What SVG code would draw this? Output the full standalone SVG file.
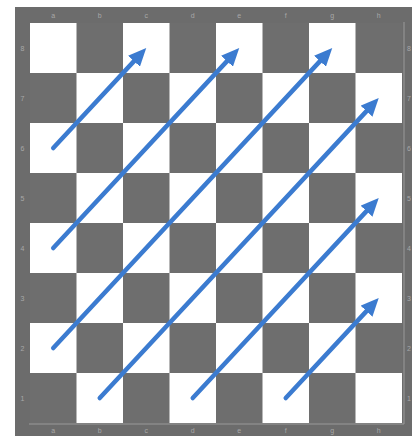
<svg xmlns="http://www.w3.org/2000/svg" width="412" height="436" viewBox="0 0 412 436">
<style>
.lt{fill:#ffffff}
.dk{fill:#6e6e6e}
.lbl{font-family:"Liberation Sans",Arial,sans-serif;font-size:7px;fill:#a8a8a8;text-anchor:middle}
.arr{stroke:#3b7bd0;stroke-width:4.5;fill:none;stroke-linecap:round;marker-end:url(#ah)}
</style>
<defs>
<marker id="ah" markerWidth="4" markerHeight="3.6" refX="1" refY="1.8" orient="auto" markerUnits="strokeWidth">
<path d="M0,0 L4,1.8 L0,3.6 z" fill="#3b7bd0"/>
</marker>
</defs>
<rect x="0" y="0" width="412" height="436" fill="#ffffff"/>
<g id="frame">
<rect x="15" y="7" width="397" height="429" fill="#6c6c6c"/>
<line x1="29" y1="424" x2="404" y2="424" stroke="#9a9a9a" stroke-width="1"/>
<line x1="404" y1="22" x2="404" y2="424" stroke="#9a9a9a" stroke-width="1"/>
</g>
<g id="board">
<rect x="30" y="23" width="372" height="400" class="dk"/>
<rect x="30" y="23" width="46.5" height="50" class="lt"/><rect x="123" y="23" width="46.5" height="50" class="lt"/><rect x="216" y="23" width="46.5" height="50" class="lt"/><rect x="309" y="23" width="46.5" height="50" class="lt"/>
<rect x="76.5" y="73" width="46.5" height="50" class="lt"/><rect x="169.5" y="73" width="46.5" height="50" class="lt"/><rect x="262.5" y="73" width="46.5" height="50" class="lt"/><rect x="355.5" y="73" width="46.5" height="50" class="lt"/>
<rect x="30" y="123" width="46.5" height="50" class="lt"/><rect x="123" y="123" width="46.5" height="50" class="lt"/><rect x="216" y="123" width="46.5" height="50" class="lt"/><rect x="309" y="123" width="46.5" height="50" class="lt"/>
<rect x="76.5" y="173" width="46.5" height="50" class="lt"/><rect x="169.5" y="173" width="46.5" height="50" class="lt"/><rect x="262.5" y="173" width="46.5" height="50" class="lt"/><rect x="355.5" y="173" width="46.5" height="50" class="lt"/>
<rect x="30" y="223" width="46.5" height="50" class="lt"/><rect x="123" y="223" width="46.5" height="50" class="lt"/><rect x="216" y="223" width="46.5" height="50" class="lt"/><rect x="309" y="223" width="46.5" height="50" class="lt"/>
<rect x="76.5" y="273" width="46.5" height="50" class="lt"/><rect x="169.5" y="273" width="46.5" height="50" class="lt"/><rect x="262.5" y="273" width="46.5" height="50" class="lt"/><rect x="355.5" y="273" width="46.5" height="50" class="lt"/>
<rect x="30" y="323" width="46.5" height="50" class="lt"/><rect x="123" y="323" width="46.5" height="50" class="lt"/><rect x="216" y="323" width="46.5" height="50" class="lt"/><rect x="309" y="323" width="46.5" height="50" class="lt"/>
<rect x="76.5" y="373" width="46.5" height="50" class="lt"/><rect x="169.5" y="373" width="46.5" height="50" class="lt"/><rect x="262.5" y="373" width="46.5" height="50" class="lt"/><rect x="355.5" y="373" width="46.5" height="50" class="lt"/>
</g>
<g id="labels">
<text class="lbl" x="53.25" y="18">a</text><text class="lbl" x="99.75" y="18">b</text><text class="lbl" x="146.25" y="18">c</text><text class="lbl" x="192.75" y="18">d</text><text class="lbl" x="239.25" y="18">e</text><text class="lbl" x="285.75" y="18">f</text><text class="lbl" x="332.25" y="18">g</text><text class="lbl" x="378.75" y="18">h</text>
<text class="lbl" x="53.25" y="433">a</text><text class="lbl" x="99.75" y="433">b</text><text class="lbl" x="146.25" y="433">c</text><text class="lbl" x="192.75" y="433">d</text><text class="lbl" x="239.25" y="433">e</text><text class="lbl" x="285.75" y="433">f</text><text class="lbl" x="332.25" y="433">g</text><text class="lbl" x="378.75" y="433">h</text>
<text class="lbl" x="22.5" y="50.5">8</text><text class="lbl" x="22.5" y="100.5">7</text><text class="lbl" x="22.5" y="150.5">6</text><text class="lbl" x="22.5" y="200.5">5</text><text class="lbl" x="22.5" y="250.5">4</text><text class="lbl" x="22.5" y="300.5">3</text><text class="lbl" x="22.5" y="350.5">2</text><text class="lbl" x="22.5" y="400.5">1</text>
<text class="lbl" x="409" y="50.5">8</text><text class="lbl" x="409" y="100.5">7</text><text class="lbl" x="409" y="150.5">6</text><text class="lbl" x="409" y="200.5">5</text><text class="lbl" x="409" y="250.5">4</text><text class="lbl" x="409" y="300.5">3</text><text class="lbl" x="409" y="350.5">2</text><text class="lbl" x="409" y="400.5">1</text>
</g>
<g id="connectors">
<line class="arr" x1="53.25" y1="148" x2="137.05" y2="57.9"/>
<line class="arr" x1="53.25" y1="248" x2="230.05" y2="57.9"/>
<line class="arr" x1="53.25" y1="348" x2="323.05" y2="57.9"/>
<line class="arr" x1="99.75" y1="398" x2="369.55" y2="107.9"/>
<line class="arr" x1="192.75" y1="398" x2="369.55" y2="207.9"/>
<line class="arr" x1="285.75" y1="398" x2="369.55" y2="307.9"/>
</g>
</svg>
